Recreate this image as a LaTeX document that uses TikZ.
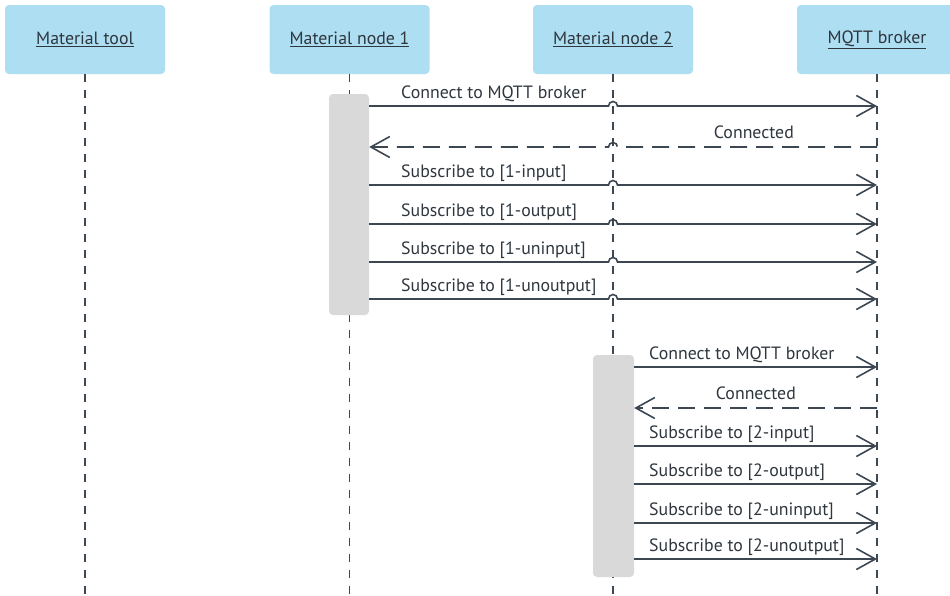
\documentclass[tikz,border=0pt]{standalone}
\usepackage{fontspec}
\setmainfont{PT Sans}
\usetikzlibrary{arrows.meta}
\definecolor{ink}{HTML}{3D4752}
\definecolor{txt}{HTML}{2F363E}
\definecolor{headfill}{HTML}{ADDEF2}
\definecolor{barfill}{HTML}{D9D9D9}

\begin{document}
\begin{tikzpicture}[x=1pt,y=-1pt,
  header/.style={fill=headfill, rounded corners=4pt, minimum width=160pt,
    minimum height=69pt, text=txt, font=\fontsize{17.8}{21}\selectfont, inner sep=0pt},
  lifeline/.style={draw=ink, line width=1.5pt, dash pattern=on 7.5pt off 8.5pt},
  actbar/.style={fill=barfill, rounded corners=4pt, minimum width=40pt, inner sep=0pt},
  msg/.style={draw=ink, line width=1.6pt,
    -{Straight Barb[length=19pt,width=21pt]}},
  reply/.style={msg, dash pattern=on 17pt off 9pt},
  lbl/.style={text=txt, font=\fontsize{17.8}{21}\selectfont, inner sep=0pt, anchor=base west},
  rlbl/.style={lbl, anchor=base east}
]
\useasboundingbox (0,0) rectangle (950,595);

% participants
\node[header] (tool)   at (85,39.5)  {\underline{Material tool}};
\node[header] (node1)  at (349.5,39.5) {\underline{Material node 1}};
\node[header] (node2)  at (613,39.5) {\underline{Material node 2}};
\node[header] (broker) at (877,39.5) {\underline{MQTT broker}};

% lifeline ends
\coordinate (toolEnd)   at (85,595);
\coordinate (node1End)  at (349.5,595);
\coordinate (node2End)  at (613,595);
\coordinate (brokerEnd) at (877,595);

\draw[lifeline] (tool.south)   -- (toolEnd);
\draw[lifeline] (node1.south)  -- (node1End);
\draw[lifeline] (node2.south)  -- (node2End);
\draw[lifeline] (broker.south) -- (brokerEnd);

% activation bars
\node[actbar, minimum height=221pt] (act1) at (349,204.5) {};
\node[actbar, minimum height=222pt, minimum width=41pt] (act2) at (613.5,466) {};

% broker-side end points of the messages of node 1
\foreach \n/\y in {1/106,2/147,3/185,4/224,5/262,6/299}{
  \coordinate (a\n) at (877,\y);
  \coordinate (h\n) at (613,\y);
}
% broker-side end points of the messages of node 2
\foreach \n/\y in {1/367,2/408,3/446,4/484,5/523,6/559}{
  \coordinate (b\n) at (877,\y);
}

% node 1 messages, hopping over the lifeline of node 2
\draw[msg] (act1.east |- a1) -- ([xshift=-4.5pt]h1) arc[start angle=180,end angle=0,radius=4.5pt] -- (a1);
\draw[reply] (a2) -- ([xshift=4.5pt]h2) arc[start angle=0,end angle=180,radius=4.5pt] -- (act1.east |- a2);
\draw[msg] (act1.east |- a3) -- ([xshift=-4.5pt]h3) arc[start angle=180,end angle=0,radius=4.5pt] -- (a3);
\draw[msg] (act1.east |- a4) -- ([xshift=-4.5pt]h4) arc[start angle=180,end angle=0,radius=4.5pt] -- (a4);
\draw[msg] (act1.east |- a5) -- ([xshift=-4.5pt]h5) arc[start angle=180,end angle=0,radius=4.5pt] -- (a5);
\draw[msg] (act1.east |- a6) -- ([xshift=-4.5pt]h6) arc[start angle=180,end angle=0,radius=4.5pt] -- (a6);

\node[lbl]  (la1) at (401,98)  {Connect to MQTT broker};
\node[rlbl] (la2) at (794,138.5) {Connected};
\node[lbl]  (la3) at (401,177) {Subscribe to [1-input]};
\node[lbl]  (la4) at (401,216) {Subscribe to [1-output]};
\node[lbl]  (la5) at (401,254) {Subscribe to [1-uninput]};
\node[lbl]  (la6) at (401,291) {Subscribe to [1-unoutput]};

% node 2 messages
\draw[msg]   (act2.east |- b1) -- (b1);
\draw[reply] (b2) -- (act2.east |- b2);
\draw[msg]   (act2.east |- b3) -- (b3);
\draw[msg]   (act2.east |- b4) -- (b4);
\draw[msg]   (act2.east |- b5) -- (b5);
\draw[msg]   (act2.east |- b6) -- (b6);

\node[lbl]  (lb1) at (649,359)   {Connect to MQTT broker};
\node[rlbl] (lb2) at (796,399.5) {Connected};
\node[lbl]  (lb3) at (649,438)   {Subscribe to [2-input]};
\node[lbl]  (lb4) at (649,476)   {Subscribe to [2-output]};
\node[lbl]  (lb5) at (649,515)   {Subscribe to [2-uninput]};
\node[lbl]  (lb6) at (649,551)   {Subscribe to [2-unoutput]};
\end{tikzpicture}
\end{document}
